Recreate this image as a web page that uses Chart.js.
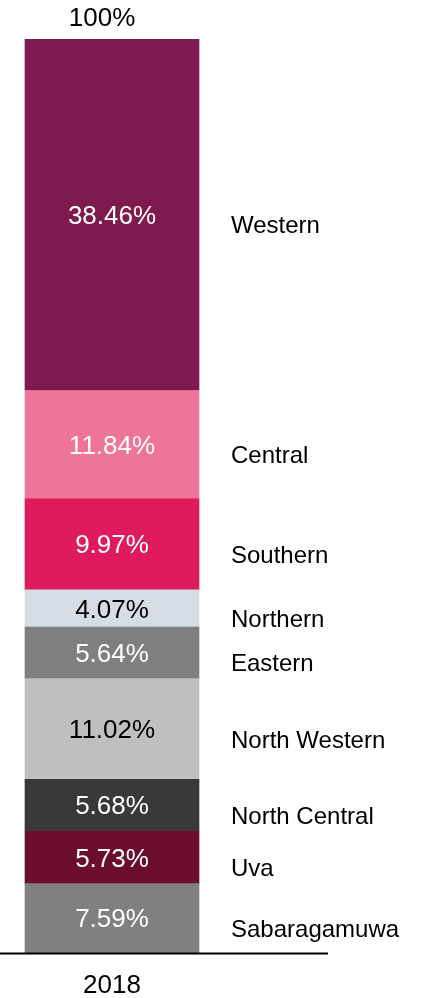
<!DOCTYPE html>
<html>
<head>
<meta charset="utf-8">
<script src="https://cdn.jsdelivr.net/npm/chart.js@4"></script>
<style>
  html, body { margin: 0; padding: 0; background: #fff; }
  #wrap { width: 437px; height: 998px; }
</style>
</head>
<body>
<div id="wrap"><canvas id="share"></canvas></div>
<script>
// Data (top of the bar to the bottom)
const years = ['2018'];
const regions = ['Western', 'Central', 'Southern', 'Northern', 'Eastern',
  'North Western', 'North Central', 'Uva', 'Sabaragamuwa'];
const shares = [38.46, 11.84, 9.97, 4.07, 5.64, 11.02, 5.68, 5.73, 7.59];
const totalLabel = '100%';

const colors = ['#7F1A4E', '#EE7499', '#DF1B5C', '#D5DCE5', '#7F7F7F',
  '#BFBFBF', '#3B3938', '#6B0E2E', '#808080'];
const textColors = ['#fff', '#fff', '#fff', '#000', '#fff', '#000', '#fff', '#fff', '#fff'];

const FONT = '"Liberation Sans", Arial, sans-serif';

// first dataset is drawn at the bottom, so build them reversed
const datasets = regions.map((name, i) => ({
  label: name,
  data: [shares[i]],
  backgroundColor: colors[i],
  barThickness: 174,
  textColor: textColors[i]
})).reverse();

// values inside the bar, region names to the right, total on top, long baseline
const barLabels = {
  id: 'barLabels',
  afterDatasetsDraw(chart) {
    const ctx = chart.ctx;
    const area = chart.chartArea;
    const yScale = chart.scales.y;
    ctx.save();
    let topY = area.bottom, cx = 0, right = 0;
    chart.data.datasets.forEach((ds, i) => {
      const bar = chart.getDatasetMeta(i).data[0];
      const mid = (bar.y + bar.base) / 2;
      cx = bar.x;
      right = bar.x + bar.width / 2;
      topY = Math.min(topY, bar.y);
      ctx.fillStyle = ds.textColor;
      ctx.font = '26px ' + FONT;
      ctx.textAlign = 'center';
      ctx.textBaseline = 'middle';
      ctx.fillText(ds.data[0].toFixed(2) + '%', cx, mid + 2);
      ctx.fillStyle = '#000';
      ctx.font = '24px ' + FONT;
      ctx.textAlign = 'left';
      ctx.fillText(ds.label, right + 32, mid + 12);
    });
    ctx.fillStyle = '#000';
    ctx.font = '26px ' + FONT;
    ctx.textAlign = 'center';
    ctx.textBaseline = 'middle';
    ctx.fillText(totalLabel, cx - 10, topY - 20);
    // baseline
    const y0 = Math.round(yScale.getPixelForValue(0)) + 0.5;
    ctx.strokeStyle = '#000';
    ctx.lineWidth = 2;
    ctx.beginPath();
    ctx.moveTo(0, y0);
    ctx.lineTo(right + 129, y0);
    ctx.stroke();
    ctx.restore();
  }
};

new Chart(document.getElementById('share'), {
  type: 'bar',
  data: { labels: years, datasets: datasets },
  options: {
    responsive: true,
    maintainAspectRatio: false,
    animation: false,
    layout: { padding: { top: 39, left: 0, right: 213, bottom: 0 } },
    plugins: {
      legend: { display: false },
      tooltip: { enabled: false }
    },
    scales: {
      x: {
        stacked: true,
        offset: true,
        grid: { display: false, drawTicks: false },
        border: { display: false },
        ticks: { color: '#000', font: { size: 26, family: FONT }, padding: 17 },
        afterFit(scale) { scale.height = 45; }
      },
      y: {
        stacked: true,
        display: false,
        min: 0,
        max: 100
      }
    }
  },
  plugins: [barLabels]
});
</script>
</body>
</html>
